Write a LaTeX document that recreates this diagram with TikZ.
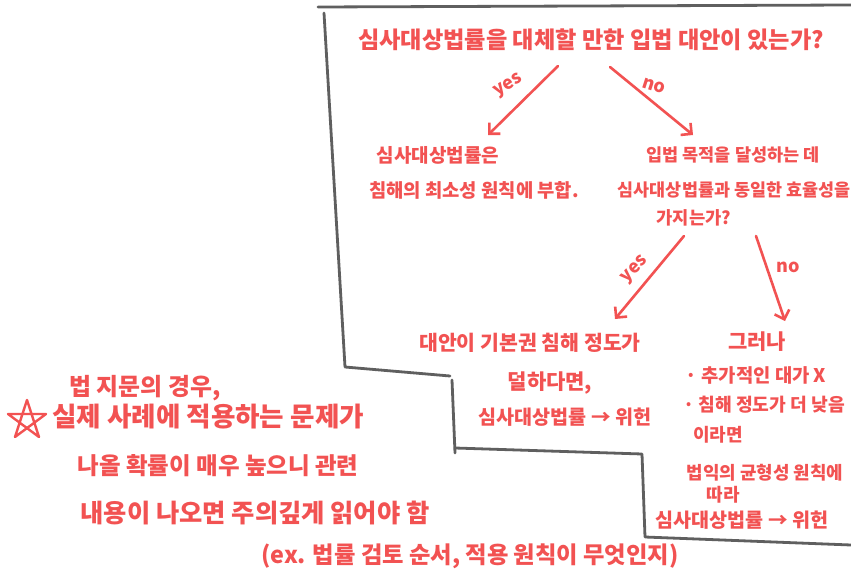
\documentclass[tikz,border=0pt]{standalone}
\usepackage{fontspec}
\setmainfont{Noto Sans CJK KR}
\newfontfamily\krfont{Noto Sans CJK KR}
\usetikzlibrary{arrows.meta,calc}
\definecolor{hand}{RGB}{242,82,82}
\definecolor{frame}{RGB}{95,95,95}
\newcommand\kfs[1]{\fontsize{#1}{#1}\selectfont}
\tikzset{
  lbl/.style={text=hand, inner sep=0pt, anchor=center},
  arr/.style={draw=hand, line width=2.6pt, line cap=round, line join=round,
              -{Straight Barb[angle=90:11pt, line width=2.6pt]}},
  rim/.style={draw=frame, line width=2.8pt, line cap=round, line join=round},
  starline/.style={draw=hand, line width=2.4pt, line cap=round, line join=round}
}
\begin{document}
\begin{tikzpicture}[x=1pt,y=-1pt]
\useasboundingbox (0,0) rectangle (851,575);
\fill[white] (0,0) rectangle (851,575);

% frame
\draw[rim] (318,7) -- (851,5);
\draw[rim] (324,13) -- (345,367) -- (450,376);
\draw[rim] (452,380) -- (455,453);
\draw[rim] (455,448) -- (642,454) -- (645,537) -- (851,545);

% question
\node[lbl, font=\krfont\bfseries\kfs{23.2}] (q) at (591,40) {심사대상법률을 대체할 만한 입법 대안이 있는가?};

% yes branch 1
\node[lbl, font=\krfont\bfseries\kfs{19}] (ya) at (438,155) {심사대상법률은};
\node[lbl, font=\krfont\bfseries\kfs{18.8}] (yb) at (474,190) {침해의 최소성 원칙에 부합.};

% no branch 1
\node[lbl, font=\krfont\bfseries\kfs{17.5}] (na) at (733,155) {입법 목적을 달성하는 데};
\node[lbl, font=\krfont\bfseries\kfs{17.4}] (nb) at (734,190) {심사대상법률과 동일한 효율성을};
\node[lbl, font=\krfont\bfseries\kfs{17.7}] (nc) at (694,218) {가지는가?};

% arrows level 1
\coordinate (y1s) at (558,66);
\coordinate (y1e) at (488,135);
\coordinate (n1s) at (610,67);
\coordinate (n1e) at (693,135);
\draw[arr] (y1s) -- (y1e);
\draw[arr] (n1s) -- (n1e);
\node[lbl, font=\krfont\bfseries\kfs{18}, rotate=32] (yl1) at (509,86) {yes};
\node[lbl, font=\krfont\bfseries\kfs{18}, rotate=-18] (nl1) at (654,86) {no};

% arrows level 2
\coordinate (y2s) at (684,236);
\coordinate (y2e) at (615,319);
\coordinate (n2s) at (756,236);
\coordinate (n2e) at (785,321);
\draw[arr] (y2s) -- (y2e);
\draw[arr] (n2s) -- (n2e);
\node[lbl, font=\krfont\bfseries\kfs{18}, rotate=45] (yl2) at (635,270) {yes};
\node[lbl, font=\krfont\bfseries\kfs{18}] (nl2) at (788,267) {no};

% yes branch 2
\node[lbl, font=\krfont\bfseries\kfs{20.5}] (ba) at (530,343) {대안이 기본권 침해 정도가};
\node[lbl, font=\krfont\bfseries\kfs{21}] (bb) at (550,383) {덜하다면,};
\node[lbl, font=\krfont\bfseries\kfs{19.6}] (bc) at (565,417) {심사대상법률 → 위헌};

% no branch 2
\node[lbl, font=\krfont\bfseries\kfs{21}] (ca) at (757,342) {그러나};
\node[lbl, font=\krfont\bfseries\kfs{18.8}] (cb) at (756,375) {· 추가적인 대가 X};
\node[lbl, font=\krfont\bfseries\kfs{18.2}] (cc) at (764,405) {· 침해 정도가 더 낮음};
\node[lbl, font=\krfont\bfseries\kfs{18}] (cd) at (718,435) {이라면};
\node[lbl, font=\krfont\bfseries\kfs{17.9}] (ce) at (765,473) {법익의 균형성 원칙에};
\node[lbl, font=\krfont\bfseries\kfs{18}] (cf) at (723,495) {따라};
\node[lbl, font=\krfont\bfseries\kfs{19.6}] (cg) at (742,520) {심사대상법률 → 위헌};

% note
\node[lbl, font=\krfont\bfseries\kfs{23.9}] (ma) at (145,388) {법 지문의 경우,};
\node[lbl, font=\krfont\bfseries\kfs{26.6}] (mb) at (208,417) {실제 사례에 적용하는 문제가};
\node[lbl, font=\krfont\bfseries\kfs{23.5}] (mc) at (218,466) {나올 확률이 매우 높으니 관련};
\node[lbl, font=\krfont\bfseries\kfs{25.3}] (md) at (255,513) {내용이 나오면 주의깊게 읽어야 함};
\node[lbl, font=\krfont\bfseries\kfs{23.3}] (me) at (470,556) {(ex. 법률 검토 순서, 적용 원칙이 무엇인지)};

% star
\coordinate (st) at (27,420);
\draw[starline] ($(st)+(0,-20)$) -- ($(st)+(-12,17)$) -- ($(st)+(19,-6)$) -- ($(st)+(-19,-6)$) -- ($(st)+(12,17)$) -- cycle;
\end{tikzpicture}
\end{document}
